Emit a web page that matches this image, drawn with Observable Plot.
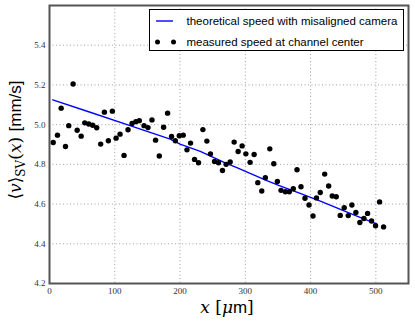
<!DOCTYPE html>
<html><head><meta charset="utf-8">
<script src="https://cdn.jsdelivr.net/npm/d3@7"></script>
<script src="https://cdn.jsdelivr.net/npm/@observablehq/plot@0.6"></script>
<style>body{margin:0;background:#fff} #chart{width:415px;height:323px}</style>
</head><body><div id="chart"></div>
<script>
const measuredX = [5.7,12.2,17.9,24.5,29.5,36.2,42.4,48.5,54.0,60.1,66.2,72.3,78.4,84.1,90.2,96.3,102.0,108.1,114.2,120.3,126.5,132.3,137.6,144.8,150.9,157.0,162.5,168.2,174.8,180.9,187.0,192.7,198.8,204.9,210.6,216.1,222.2,228.3,235.0,241.1,246.6,252.8,258.9,265.0,270.6,276.8,282.9,289.0,295.1,300.8,307.3,313.5,319.1,325.2,330.7,337.5,343.6,349.1,354.7,361.3,367.4,373.5,379.2,385.3,391.4,397.6,403.7,409.0,414.8,421.6,427.7,433.2,439.3,445.4,451.5,457.7,463.3,469.4,475.5,481.7,487.3,493.4,499.5,505.7,511.8];
const measuredY = [4.910,4.947,5.083,4.890,4.995,5.205,4.972,4.942,5.009,5.003,4.997,4.984,4.902,5.063,4.919,5.068,4.932,4.952,4.845,4.974,5.006,5.015,5.020,4.995,4.985,5.024,4.922,4.842,4.987,5.058,4.940,4.919,4.944,4.947,4.873,4.907,4.825,4.808,4.975,4.917,4.853,4.815,4.808,4.769,4.800,4.812,4.912,4.865,4.893,4.853,4.810,4.850,4.708,4.666,4.733,4.878,4.803,4.714,4.669,4.662,4.662,4.677,4.773,4.687,4.629,4.595,4.540,4.631,4.658,4.751,4.691,4.641,4.637,4.543,4.582,4.542,4.595,4.558,4.507,4.527,4.553,4.515,4.491,4.611,4.485];
const theoryX = [5,60,120,137,185,200,231,270,287,333,353,384,414,470,501];
const theoryY = [5.125,5.065,4.999,4.980,4.927,4.902,4.865,4.806,4.784,4.718,4.692,4.654,4.616,4.541,4.500];
const xTicks = [0,100,200,300,400,500];
const yTicks = [4.2,4.4,4.6,4.8,5.0,5.2,5.4];
const legendLabels = ["theoretical speed with misaligned camera","measured speed at channel center"];

const measured = measuredX.map((x,i)=>({x, y: measuredY[i]}));
const theory = theoryX.map((x,i)=>({x, y: theoryY[i]}));

const gridStyle = {stroke:"#8a8a8a", strokeOpacity:1, strokeWidth:0.8, strokeDasharray:"1,2.5"};
const plot = Plot.plot({
  width: 415, height: 323,
  marginLeft: 49, marginRight: 7, marginTop: 5, marginBottom: 40,
  style: {fontFamily: "'Liberation Serif', serif", fontSize: "9px", color: "#333", background: "white", overflow: "visible"},
  x: {domain: [0,550], label: null},
  y: {domain: [4.2,5.6], label: null},
  marks: [
    Plot.gridX(xTicks, gridStyle),
    Plot.gridY(yTicks, gridStyle),
    Plot.axisX({ticks: xTicks, tickSize: 0, tickPadding: 4, tickFormat: d => String(d), label: null}),
    Plot.axisY({ticks: yTicks, tickSize: 0, tickPadding: 4, tickFormat: d => d.toFixed(1), label: null}),
    Plot.line(theory, {x:"x", y:"y", stroke:"#0000ff", strokeWidth:1.4}),
    Plot.dot(measured, {x:"x", y:"y", r:2.7, fill:"black", stroke:"none"}),
    Plot.frame({stroke:"#555", strokeWidth:2})
  ]
});
document.getElementById("chart").appendChild(plot);

const svg = d3.select(plot);
// legend
const lg = svg.append("g").attr("font-family","'Liberation Sans', Arial, sans-serif").attr("font-size","11.5px").attr("text-anchor","start");
lg.append("rect").attr("x",149.5).attr("y",9.5).attr("width",254).attr("height",41).attr("fill","white").attr("stroke","black").attr("stroke-width",1);
lg.append("line").attr("x1",156).attr("x2",173).attr("y1",21).attr("y2",21).attr("stroke","#0000ff").attr("stroke-width",1.4);
lg.append("circle").attr("cx",157.5).attr("cy",42).attr("r",2.5).attr("fill","black");
lg.append("circle").attr("cx",173.5).attr("cy",42).attr("r",2.5).attr("fill","black");
lg.append("text").attr("x",186.5).attr("y",21).attr("dy","0.35em").attr("fill","black").text(legendLabels[0]);
lg.append("text").attr("x",186.5).attr("y",42).attr("dy","0.35em").attr("fill","black").text(legendLabels[1]);

// y label
const yl = svg.append("text").attr("transform","translate(21,140) rotate(-90)").attr("text-anchor","middle")
  .attr("font-size","17px").attr("font-family","'DejaVu Serif', serif").attr("fill","black");
yl.append("tspan").text("\u27E8");
yl.append("tspan").attr("font-style","italic").text("v");
yl.append("tspan").text("\u27E9");
yl.append("tspan").attr("font-size","12px").attr("dy","4").text("SV");
yl.append("tspan").attr("dy","-4").text("(");
yl.append("tspan").attr("font-style","italic").text("x");
yl.append("tspan").text(") ");
yl.append("tspan").attr("font-family","'Liberation Sans', Arial, sans-serif").text("[mm/s]");

// x label
const xl = svg.append("text").attr("x",227).attr("y",313).attr("text-anchor","middle")
  .attr("font-size","17px").attr("font-family","'DejaVu Serif', serif").attr("fill","black");
xl.append("tspan").attr("font-style","italic").text("x");
xl.append("tspan").text(" [");
xl.append("tspan").attr("font-style","italic").text("\u03BC");
xl.append("tspan").attr("font-family","'Liberation Sans', Arial, sans-serif").text("m");
xl.append("tspan").text("]");
</script>
</body></html>
